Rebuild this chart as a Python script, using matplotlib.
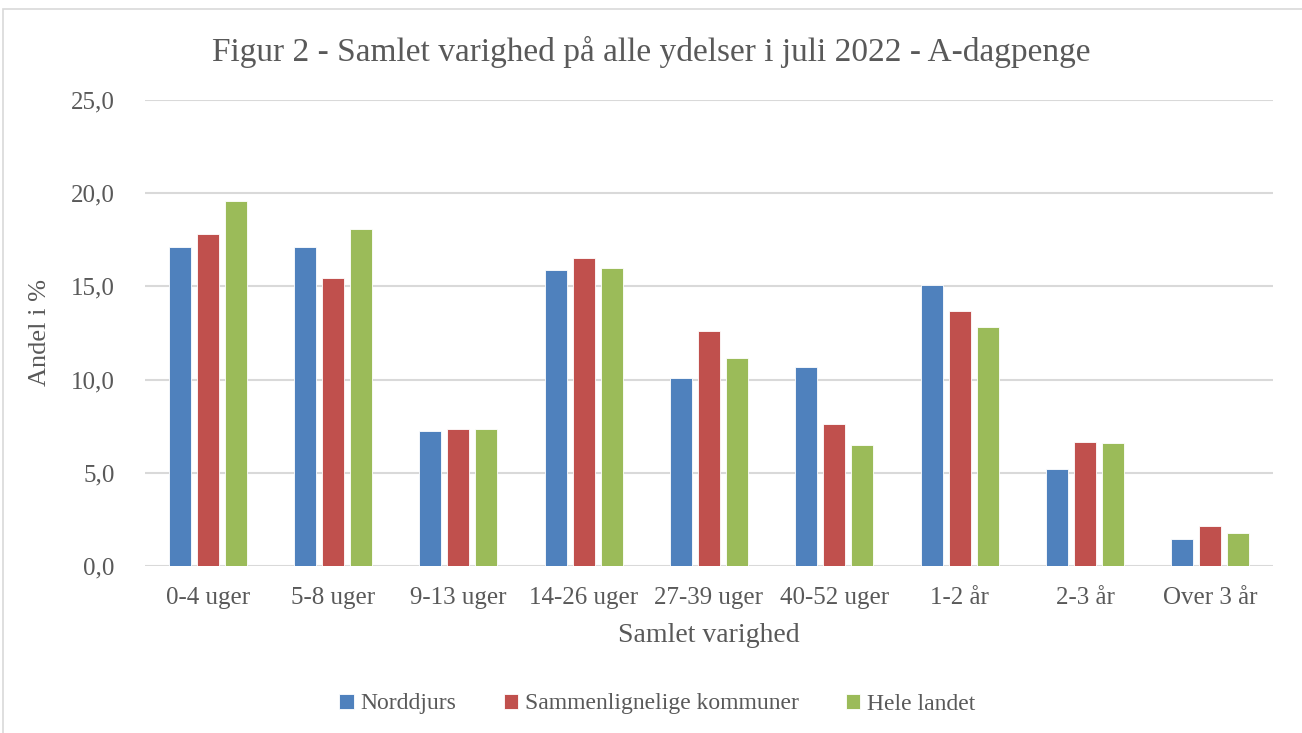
import matplotlib
matplotlib.use('Agg')
import matplotlib.pyplot as plt
from matplotlib.patches import Rectangle
from matplotlib.ticker import FuncFormatter
import numpy as np

categories = ['0-4 uger', '5-8 uger', '9-13 uger', '14-26 uger', '27-39 uger',
              '40-52 uger', '1-2 år', '2-3 år', 'Over 3 år']
norddjurs = [17.1, 17.1, 7.26, 15.9, 10.1, 10.7, 15.07, 5.2, 1.43]
sammenlignelige = [17.8, 15.47, 7.37, 16.5, 12.6, 7.63, 13.69, 6.65, 2.15]
hele_landet = [19.6, 18.1, 7.33, 16.0, 11.17, 6.49, 12.83, 6.6, 1.75]
series_names = ['Norddjurs', 'Sammenlignelige kommuner', 'Hele landet']
colors = ['#4F81BD', '#C0504D', '#9BBB59']
text_color = '#595959'

plt.rcParams['font.family'] = ['Liberation Serif', 'DejaVu Serif']

fig = plt.figure(figsize=(13.02, 7.33), dpi=100)
ax = fig.add_axes([145 / 1302, 1 - 566 / 733, 1128 / 1302, 466 / 733])

# outer chart border
fig.patches.append(Rectangle((3 / 1302, -0.01), 1.1, 1 - 9 / 733 + 0.01,
                             transform=fig.transFigure, fill=False,
                             edgecolor='#d9d9d9', linewidth=1.2))

x = np.arange(len(categories))
width = 0.175
step = 0.223
for i, (vals, name, col) in enumerate(zip([norddjurs, sammenlignelige, hele_landet],
                                          series_names, colors)):
    ax.bar(x + (i - 1) * step, vals, width, color=col, label=name,
           edgecolor='white', linewidth=0.6, zorder=3)

ax.set_ylim(0, 25)
ax.set_xlim(-0.5, len(categories) - 0.5)
ax.set_yticks(np.arange(0, 26, 5))
ax.yaxis.set_major_formatter(FuncFormatter(lambda v, p: f'{v:.1f}'.replace('.', ',')))
ax.set_xticks(x)
ax.set_xticklabels(categories)
ax.grid(axis='y', color='#d9d9d9', linewidth=1.5, zorder=0)
ax.set_axisbelow(True)
for s in ax.spines.values():
    s.set_visible(False)
ax.tick_params(axis='both', length=0, labelsize=18, colors=text_color)
ax.tick_params(axis='x', pad=15)
ax.tick_params(axis='y', pad=22)

ax.set_ylabel('Andel i %', fontsize=19, color=text_color, labelpad=14)
ax.set_xlabel('Samlet varighed', fontsize=20, color=text_color, labelpad=10)

fig.text(0.5, 1 - 52 / 733, 'Figur 2 - Samlet varighed på alle ydelser i juli 2022 - A-dagpenge',
         ha='center', va='center', fontsize=24, color=text_color)

fig.legend(loc='center', bbox_to_anchor=(0.505, 1 - 704 / 733), ncol=3, frameon=False,
           fontsize=17, handlelength=0.6, handleheight=0.6, handletextpad=0.3,
           columnspacing=2.0, labelcolor=text_color)

fig.savefig('out.png', dpi=100)
